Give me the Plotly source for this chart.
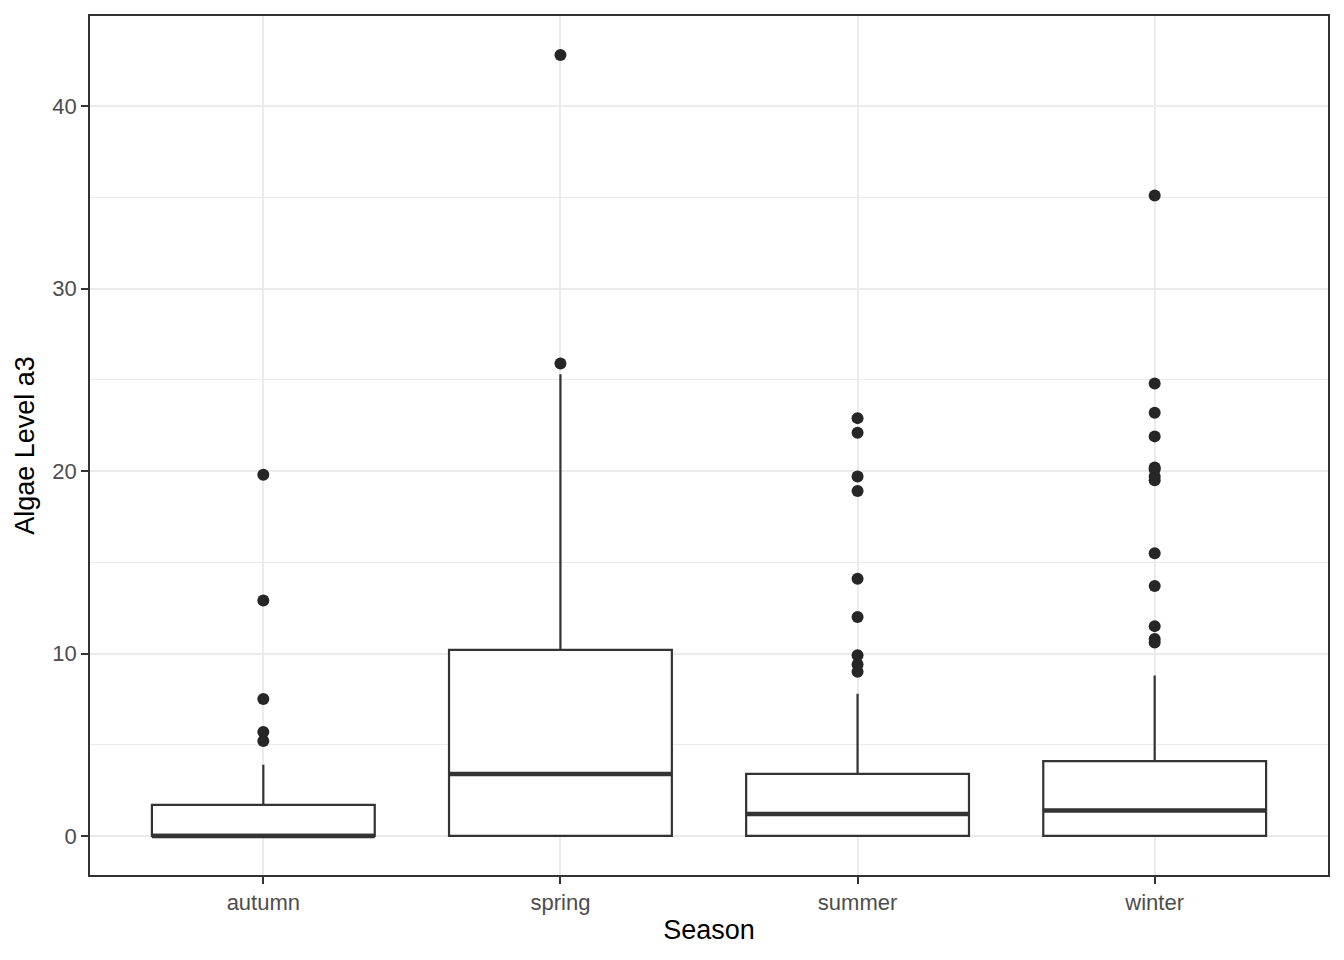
import plotly.graph_objects as go

seasons = ["autumn", "spring", "summer", "winter"]
q1 = [0.0, 0.0, 0.0, 0.0]
medians = [0.0, 3.4, 1.2, 1.4]
q3 = [1.7, 10.2, 3.4, 4.1]
lower = [0.0, 0.0, 0.0, 0.0]
upper = [3.9, 25.3, 7.8, 8.8]

outliers = {
    "autumn": [19.8, 12.9, 7.5, 5.7, 5.2],
    "spring": [42.8, 25.9],
    "summer": [22.9, 22.1, 19.7, 18.9, 14.1, 12.0, 9.9, 9.4, 9.0],
    "winter": [35.1, 24.8, 23.2, 21.9, 20.2, 20.1, 19.7, 19.5, 15.5, 13.7, 11.5, 10.8, 10.6],
}

ink = "#333333"
fig = go.Figure()

fig.add_trace(go.Box(
    x=seasons, q1=q1, median=medians, q3=q3,
    lowerfence=lower, upperfence=upper,
    boxpoints=False, width=0.75, whiskerwidth=0,
    fillcolor="white", line=dict(color=ink, width=2.2),
    showlegend=False, hoverinfo="skip",
))
# thicker median line, like ggplot's fatten
fig.add_trace(go.Box(
    x=seasons, q1=medians, median=medians, q3=medians,
    lowerfence=medians, upperfence=medians,
    boxpoints=False, width=0.75, whiskerwidth=0,
    fillcolor="rgba(0,0,0,0)", line=dict(color=ink, width=4.5),
    showlegend=False, hoverinfo="skip",
))

ox, oy = [], []
for s in seasons:
    ox += [s] * len(outliers[s])
    oy += outliers[s]
fig.add_trace(go.Scatter(
    x=ox, y=oy, mode="markers",
    marker=dict(color="#262626", size=12),
    showlegend=False,
))

fig.update_layout(
    width=1344, height=960,
    margin=dict(l=82, r=24, t=8, b=93),
    paper_bgcolor="white", plot_bgcolor="white",
    font=dict(family="Liberation Sans, Arial, sans-serif"),
    boxmode="overlay",
)
fig.update_xaxes(
    title=dict(text="Season", font=dict(size=27, color="black"), standoff=6),
    tickfont=dict(size=22, color="#4D4D4D"),
    showgrid=True, gridcolor="#EBEBEB", gridwidth=2,
    showline=True, mirror=True, linecolor=ink, linewidth=1.5,
    ticks="outside", ticklen=7, tickwidth=2, tickcolor=ink, zeroline=False,
    automargin=False,
)
fig.update_yaxes(
    title=dict(text="Algae Level a3", font=dict(size=27, color="black"), standoff=10),
    tickfont=dict(size=22, color="#4D4D4D"),
    range=[-2.14, 44.94], dtick=10, tick0=0,
    showgrid=True, gridcolor="#EBEBEB", gridwidth=2,
    minor=dict(dtick=5, showgrid=True, gridcolor="#EBEBEB", gridwidth=1),
    showline=True, mirror=True, linecolor=ink, linewidth=1.5,
    ticks="outside", ticklen=7, tickwidth=2, tickcolor=ink, zeroline=False,
    automargin=False,
)

fig.write_html("out.html")
